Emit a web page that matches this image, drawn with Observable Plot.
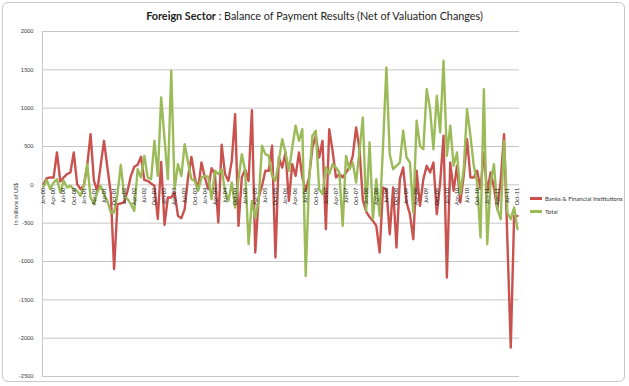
<!DOCTYPE html>
<html>
<head>
<meta charset="utf-8">
<script src="https://cdn.jsdelivr.net/npm/d3@7"></script>
<script src="https://cdn.jsdelivr.net/npm/@observablehq/plot@0.6"></script>
<style>
  html, body { margin: 0; padding: 0; background: #fff; }
  #wrap { position: relative; width: 629px; height: 386px; overflow: hidden; font-family: Lato, "Open Sans", sans-serif; }
  #border { position: absolute; left: 2px; top: 2px; width: 623px; height: 380px; border: 1px solid #c9c9c9; border-radius: 6px; box-sizing: border-box; }
  #title { position: absolute; left: 0; top: 9px; width: 629px; text-align: center; font-size: 10.8px; color: #222; white-space: nowrap; }
  #chart { position: absolute; left: 0; top: 0; }
  #legend { position: absolute; left: 530px; top: 192px; font-size: 6px; color: #333; }
  .li { display: flex; align-items: center; height: 13px; }
  .sw { width: 12px; height: 2.5px; margin-right: 3px; }
</style>
</head>
<body>
<div id="wrap">
  <div id="border"></div>
  <div id="chart"></div>
  <div id="title"><b>Foreign Sector</b> : Balance of Payment Results (Net of Valuation Changes)</div>
  <div id="legend"></div>
</div>
<script>
const seriesNames = ["Banks & Financial Institutions", "Total"];
const seriesColors = ["#C9524E", "#9BBB59"];

const tickLabels = [
  "Jan-00","Apr-00","Jul-00","Oct-00","Jan-01","Apr-01","Jul-01","Oct-01",
  "Jan-02","Apr-02","Jul-02","Oct-02","Jan-03","Apr-03","Jul-03","Oct-03",
  "Jan-04","Apr-04","Jul-04","Oct-04","Jan-05","Apr-05","Jul-05","Oct-05",
  "Jan-06","Apr-06","Jul-06","Oct-06","Jan-07","Apr-07","Jul-07","Oct-07",
  "Jan-08","Apr-08","Jul-08","Oct-08","Jan-09","Apr-09","Jul-09","Oct-09",
  "Jan-10","Apr-10","Jul-10","Oct-10","Jan-11","Apr-11","Jul-11","Oct-11"
];

const yTicks = [-2500, -2000, -1500, -1000, -500, 0, 500, 1000, 1500, 2000];

// Monthly values, Jan-00 .. Oct-11 (millions of US$)
const banks = [
  9, 87, 96, 96, 422, 43, 96, 139, 161, 422, 9, -57,
  -13, 250, 661, 52, -78, 250, 574, 226, -100, -1100, -252, -243,
  -230, -78, 117, 235, 261, 365, 61, 52, 17, -13, -445, 300,
  -522, -165, -165, -100, -405, -435, -317, 96, 365, 96, -57, 291,
  96, -57, 217, 139, -491, 522, 139, 52, 313, 922, -535, 100,
  200, 50, 974, -883, -165, -13, 183, 183, 509, -948, 357, 226,
  422, -209, 270, 117, 422, 96, -78, 96, 487, 640, 357, 574,
  -578, 726, 443, 96, 139, 96, 161, 226, 378, 748, 465, -200,
  -350, -420, -470, -535, -883, -35, -57, -644, -35, -818, 74, 226,
  -230, -383, -709, 183, -274, 74, 248, 161, 291, -383, 30, 640,
  -1209, 291, -78, 248, -230, 117, 596, 96, 96, 183, -50, 420,
  -100, 161, -35, -318, 50, 661, -730, -2123, -405, -405
];

const total = [
  -26, 61, -57, 30, 74, -100, 52, -35, -13, -57, -78, -143,
  -13, 270, -165, -252, -100, -13, -122, -209, -361, -361, -122, 261,
  -143, -187, -252, -340, 204, 96, 378, 96, 74, 574, 117, 1140,
  600, 74, 1488, -57, 270, 117, 530, 291, 74, 52, -78, 96,
  117, 104, -187, 183, 139, 204, -78, -209, 30, -296, 74, 400,
  183, -774, -209, -426, -209, 509, 400, 378, 117, 52, 313, 596,
  422, 183, 487, 770, 574, 726, -1188, 52, 640, 705, -57, -122,
  226, 139, 270, 226, 161, -535, 378, 204, 291, 30, 450, 879,
  -340, 552, -448, 74, -405, 500, 1531, 400, 204, 248, 291, 705,
  357, 291, -361, 835, 509, 465, 1248, 987, 465, 1161, 683, 1618,
  378, 770, 248, 422, -122, 204, 987, 640, 248, 30, -687, 1248,
  -774, 30, 270, -318, -448, 574, -361, -448, -296, -578
];

const rows = (arr, name) => arr.map((v, i) => ({i, v, name}));
const bankRows = rows(banks, seriesNames[0]);
const totalRows = rows(total, seriesNames[1]);
const tickRows = tickLabels.map((t, k) => ({i: k * 3, t}));

const chart = Plot.plot({
  width: 629,
  height: 386,
  marginTop: 31,
  marginBottom: 10,
  marginLeft: 42,
  marginRight: 110,
  style: {fontFamily: "Lato, 'Open Sans', sans-serif", background: "transparent", color: "#333"},
  x: {domain: [-0.3, 141.6], axis: null},
  y: {domain: [-2500, 2000], axis: null},
  marks: [
    Plot.ruleY(yTicks, {stroke: "#c6c6c6", strokeWidth: 1}),
    Plot.ruleX([-0.3], {stroke: "#c6c6c6", strokeWidth: 1}),
    Plot.axisY({ticks: yTicks, tickSize: 0, tickPadding: 9, fontSize: 5.5, tickFormat: d => String(d),
      label: "In millions of US$", labelAnchor: "center", labelArrow: "none", labelOffset: 28}),
    Plot.line(bankRows, {x: "i", y: "v", stroke: seriesColors[0], strokeWidth: 2.4, strokeLinejoin: "round"}),
    Plot.line(totalRows, {x: "i", y: "v", stroke: seriesColors[1], strokeWidth: 2.4, strokeLinejoin: "round"}),
    Plot.text(tickRows, {x: "i", y: () => 0, text: "t", rotate: -90, textAnchor: "end", dy: 3, fontSize: 5.5, fill: "#222"})
  ]
});
document.getElementById("chart").appendChild(chart);

const legend = document.getElementById("legend");
seriesNames.forEach((n, k) => {
  const row = document.createElement("div");
  row.className = "li";
  const sw = document.createElement("span");
  sw.className = "sw";
  sw.style.background = seriesColors[k];
  const tx = document.createElement("span");
  tx.textContent = n;
  row.appendChild(sw);
  row.appendChild(tx);
  legend.appendChild(row);
});
</script>
</body>
</html>
